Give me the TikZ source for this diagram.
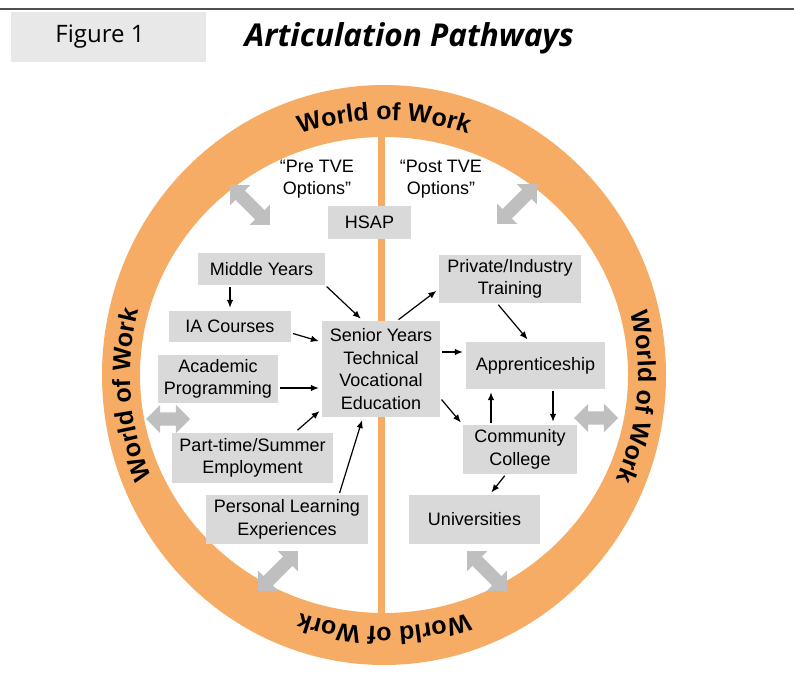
\documentclass[tikz,border=0pt]{standalone}
\usepackage{fontspec}
\setmainfont{Liberation Sans}
\newfontfamily\headfont{Open Sans}
\usepackage{tikz}
\usetikzlibrary{shapes,arrows.meta,decorations.text}
\definecolor{boxgray}{RGB}{217,217,217}
\definecolor{arrowgray}{RGB}{191,191,191}
\definecolor{workorange}{RGB}{246,172,100}
\definecolor{headgray}{RGB}{232,232,232}
\definecolor{rulegray}{RGB}{80,80,80}
\newcommand{\boxfont}{\fontsize{18}{22.5}\selectfont}
\newcommand{\wowfont}{\fontsize{25}{25}\selectfont\bfseries}
\tikzstyle{block}=[rectangle, fill=boxgray, align=center, inner sep=0pt, font=\boxfont]
\tikzstyle{line} =[draw, -{Latex[length=8pt, width=6.5pt]}, line width=1.2pt,
                   shorten <=2pt, shorten >=3pt]
\tikzstyle{twoway}=[double arrow, fill=arrowgray, inner xsep=0pt, inner ysep=6.5pt,
                    double arrow head extend=7.5pt, minimum height=56pt]
\tikzstyle{wow}=[decorate, decoration={text along path, text align=center,
                 text={|\wowfont|World of Work}}]

\begin{document}
\begin{tikzpicture}[x=1pt, y=1pt]
    \useasboundingbox (0,0) rectangle (794,675);
    % heading
    \draw [line width=2.5pt, rulegray] (0,666) -- (794,666);
    \node [fill=headgray, minimum width=195pt, minimum height=50pt] at (108,638) (fig) {};
    \node at (100,638) (figlabel) {\headfont\fontsize{24}{28}\selectfont Figure 1};
    \node [anchor=west] at (241,637) (title)
          {\headfont\fontsize{31.5}{35}\selectfont\bfseries\itshape Articulation Pathways};
    % ring and divider
    \fill [workorange] (378,60) rectangle (385,548);
    \fill [workorange, even odd rule] (384,300) ellipse [x radius=282pt, y radius=290pt]
                                      (384,300) ellipse [x radius=244pt, y radius=238pt];
    \begin{scope}[shift={(384,300)}]
      \path [wow] (135:254pt and 255pt) arc [start angle=135, end angle=45, x radius=254pt, y radius=255pt];
      \path [wow] (40:254pt and 255pt) arc [start angle=40, end angle=-50, x radius=254pt, y radius=255pt];
      \path [wow] (-45:254pt and 252pt) arc [start angle=-45, end angle=-135, x radius=254pt, y radius=252pt];
      \path [wow] (229.5:254pt and 255pt) arc [start angle=229.5, end angle=139.5, x radius=254pt, y radius=255pt];
    \end{scope}
    \node [align=center, font=\boxfont] at (317,496) (pre)  {“Pre TVE\\Options”};
    \node [align=center, font=\boxfont] at (441,496) (post) {“Post TVE\\Options”};
    % links to the world of work
    \node [twoway, rotate=-45] at (250,470) (wtl) {};
    \node [twoway, rotate=45]  at (517,471) (wtr) {};
    \node [twoway, minimum height=44pt] at (168,256) (wl) {};
    \node [twoway, minimum height=44pt] at (596,257) (wr) {};
    \node [twoway, rotate=45]  at (278,104) (wbl) {};
    \node [twoway, rotate=-45] at (487,104) (wbr) {};
    % pathways
    \node [block, minimum width=83pt,  minimum height=33pt] at (369.5,452.5) (hsap)     {HSAP};
    \node [block, minimum width=127pt, minimum height=32pt] at (261.5,406)   (midyears) {Middle Years};
    \node [block, minimum width=122pt, minimum height=31pt] at (230,348.5)   (ia)       {IA Courses};
    \node [block, minimum width=120pt, minimum height=48pt] at (218,296)     (acad)     {Academic\\Programming};
    \node [block, minimum width=161pt, minimum height=50pt] at (252.5,217)   (parttime) {Part-time/Summer\\Employment};
    \node [block, minimum width=162pt, minimum height=49pt] at (287,155.5)   (personal) {Personal Learning\\Experiences};
    \node [block, minimum width=118pt, minimum height=96pt] at (381,306)     (senior)   {Senior Years\\Technical\\Vocational\\Education};
    \node [block, minimum width=142pt, minimum height=48pt] at (510,396)     (private)  {Private/Industry\\Training};
    \node [block, minimum width=139pt, minimum height=47pt] at (535.5,309.5) (apprent)  {Apprenticeship};
    \node [block, minimum width=114pt, minimum height=49pt] at (520,225.5)   (college)  {Community\\College};
    \node [block, minimum width=131pt, minimum height=49pt] at (474.5,155.5) (univ)     {Universities};
    \path [line] (ia.north |- midyears.south) -- (ia.north);
    \path [line] (midyears.south east) -- ([xshift=-18pt]senior.north);
    \path [line] ([yshift=-6.5pt]ia.east) -- ([yshift=27pt]senior.west);
    \path [line] ([yshift=-9pt]acad.east) -- ([yshift=-9pt]acad.east -| senior.west);
    \path [line, shorten <=4pt] ([xshift=42pt]parttime.north) -- ([yshift=-40pt]senior.west);
    \path [line] ([xshift=52pt]personal.north) -- ([xshift=-18pt]senior.south);
    \path [line] ([xshift=16pt]senior.north) -- ([yshift=-10pt]private.west);
    \path [line] ([xshift=-13pt]private.south) -- ([xshift=-6pt]apprent.north);
    \path [line] ([yshift=17pt]senior.east) -- ([yshift=17pt]senior.east -| apprent.west);
    \path [line] ([yshift=-29pt]senior.east) -- (college.north west);
    \path [line] ([xshift=-29pt]college.north) -- ([xshift=-29pt]college.north |- apprent.south);
    \path [line] ([xshift=17.5pt]apprent.south) -- ([xshift=17.5pt]apprent.south |- college.north);
    \path [line] ([xshift=-14pt]college.south) -- ([xshift=15pt]univ.north);
\end{tikzpicture}
\end{document}
